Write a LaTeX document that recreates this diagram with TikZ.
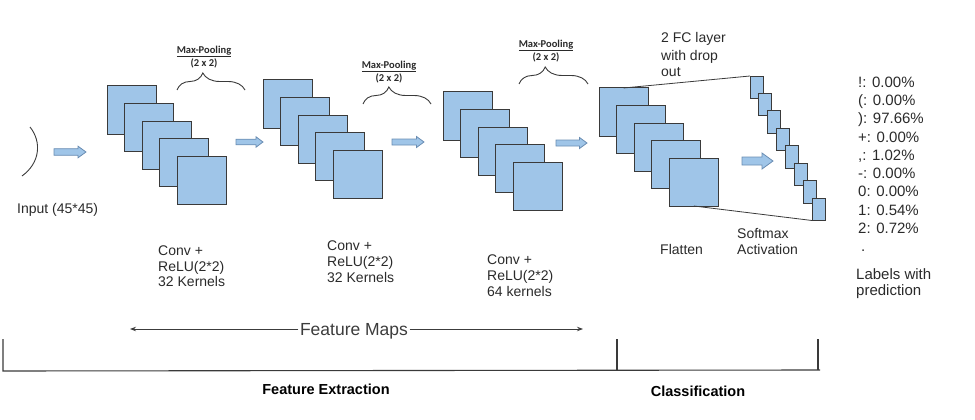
\documentclass[tikz,border=0pt]{standalone}
\usepackage{fontspec}
\setmainfont{Liberation Sans}
\newfontfamily\calib{Carlito}
\usetikzlibrary{decorations.pathreplacing,arrows.meta}
\definecolor{sqfill}{HTML}{9FC5E8}
\definecolor{sqdraw}{HTML}{3A3A3A}
\definecolor{arrdraw}{HTML}{6A8DB3}
\definecolor{txt}{HTML}{2A2A2A}
\definecolor{fmgray}{HTML}{3C3C3C}
\newcommand{\blkarrow}[6]{%
  \draw[barrow] ({#1},{#3-#4}) -- ({#2-#6},{#3-#4}) -- ({#2-#6},{#3-#5}) -- ({#2},{#3})
   -- ({#2-#6},{#3+#5}) -- ({#2-#6},{#3+#4}) -- ({#1},{#3+#4}) -- cycle;}
\begin{document}
\begin{tikzpicture}[x=1pt,y=-1pt,
  sq/.style={draw=sqdraw,fill=sqfill,line width=1pt,minimum width=49pt,minimum height=48pt,inner sep=0pt,outer sep=0pt,anchor=north west},
  fcbox/.style={draw=sqdraw,fill=sqfill,line width=0.9pt,minimum width=13pt,minimum height=22.5pt,inner sep=0pt,outer sep=0pt,anchor=north west},
  lbl/.style={font=\fontsize{14}{16}\selectfont,text=txt,anchor=base west,inner sep=0pt},
  lst/.style={font=\fontsize{15}{18}\selectfont,text=txt,anchor=base west,inner sep=0pt},
  mp/.style={font=\calib\bfseries\fontsize{10.5}{12}\selectfont,text=txt,anchor=base,inner sep=0pt},
  bold/.style={font=\bfseries\fontsize{14.5}{17}\selectfont,text=black,inner sep=0pt},
  barrow/.style={draw=arrdraw,fill=sqfill,line width=0.8pt,line join=miter},
  brc/.style={draw=sqdraw,line width=0.9pt,decorate,decoration={brace,amplitude=17pt,aspect=0.38}},
  conn/.style={draw=sqdraw,line width=0.8pt},
  brk/.style={draw=sqdraw,line width=1.1pt},
  fmline/.style={draw=fmgray,line width=1pt,-{Stealth[length=6pt,width=4.5pt]}}
]
\useasboundingbox (0,0) rectangle (975,420);

% input arc
\draw[draw=fmgray,line width=0.9pt] (30,127) .. controls (42,142) and (40,163) .. (22,176);
\node[lbl] (inp) at (17,213) {Input (45*45)};

% feature map stacks
\foreach \g/\x/\y in {a/107/86, b/263/80, c/443/92, d/599/88} {
  \foreach \i in {1,...,5} {
    \node[sq] (\g\i) at ({\x+(\i-1)*17.6},{\y+(\i-1)*17.5}) {};
  }
}

% FC units
\foreach \i in {1,...,8} {
  \node[fcbox] (f\i) at ({750+(\i-1)*8.86},{76+(\i-1)*17.43}) {};
}
\draw[conn] (d1.north) -- (f1.north west);
\draw[conn] (d5.south) -- (f8.south west);

% block arrows
\blkarrow{54}{86}{152}{3.3}{5.8}{8}
\blkarrow{236}{263}{142}{2.8}{5.2}{7}
\blkarrow{392}{424}{142}{3}{5.5}{7.5}
\blkarrow{556}{587}{143}{3}{5.5}{7.5}
\blkarrow{742}{773}{161}{4}{8}{11}

% max pooling braces
\draw[brc] (177,90) -- (245,90);
\node[mp] (mp1) at (204,53.5) {\underline{Max-Pooling}};
\node[mp] (mq1) at (204,66.5) {(2 x 2)};
\draw[brc] (363,104) -- (431,104);
\node[mp] (mp2) at (389,68.5) {\underline{Max-Pooling}};
\node[mp] (mq2) at (389,81.5) {(2 x 2)};
\draw[brc] (519,84) -- (588,84);
\node[mp] (mp3) at (546,47.5) {\underline{Max-Pooling}};
\node[mp] (mq3) at (546,60.5) {(2 x 2)};

% layer labels
\node[lbl] (c1a) at (158,255) {Conv +};
\node[lbl] (c1b) at (158,271) {ReLU(2*2)};
\node[lbl] (c1c) at (158,286) {32 Kernels};
\node[lbl] (c2a) at (327,250) {Conv +};
\node[lbl] (c2b) at (327,266) {ReLU(2*2)};
\node[lbl] (c2c) at (327,282) {32 Kernels};
\node[lbl] (c3a) at (487,264) {Conv +};
\node[lbl] (c3b) at (487,280) {ReLU(2*2)};
\node[lbl] (c3c) at (487,296) {64 kernels};
\node[lbl] (fl) at (660,254) {Flatten};
\node[lbl] (sm1) at (737,238) {Softmax};
\node[lbl] (sm2) at (737,254) {Activation};
\node[lbl] (fc1t) at (661,43) {2 FC layer};
\node[lbl] (fc2t) at (661,60) {with drop};
\node[lbl] (fc3t) at (661,77) {out};

% predictions
\node[lst] (p1) at (858,87.4) {!: 0.00\%};
\node[lst] (p2) at (858,105.6) {(: 0.00\%};
\node[lst] (p3) at (858,123.9) {): 97.66\%};
\node[lst] (p4) at (858,142.1) {+: 0.00\%};
\node[lst] (p5) at (858,160.4) {,: 1.02\%};
\node[lst] (p6) at (858,178.6) {-: 0.00\%};
\node[lst] (p7) at (858,196.9) {0: 0.00\%};
\node[lst] (p8) at (858,215.1) {1: 0.54\%};
\node[lst] (p9) at (858,233.4) {2: 0.72\%};
\node[lst] (pdot) at (861,251) {.};
\node[lst] (lw1) at (856,279.4) {Labels with};
\node[lst] (lw2) at (856,295.4) {prediction};

% feature maps arrow
\node[font=\fontsize{17.5}{20}\selectfont,text=fmgray,anchor=base,inner sep=1.5pt] (fm) at (354,335) {Feature Maps};
\coordinate (fmL) at (130,329);
\coordinate (fmR) at (583,329);
\draw[fmline] (fm.west |- fmL) -- (fmL);
\draw[fmline] (fm.east |- fmR) -- (fmR);

% bottom bracket
\draw[brk] (3,339) -- (3,371) -- (820,370);
\draw[brk] (617,339) -- (617,370.5);
\draw[brk] (818,339) -- (818,370);
\node[bold] (fe) at (326,389) {Feature Extraction};
\node[bold] (cl) at (698,391) {Classification};
\end{tikzpicture}
\end{document}
